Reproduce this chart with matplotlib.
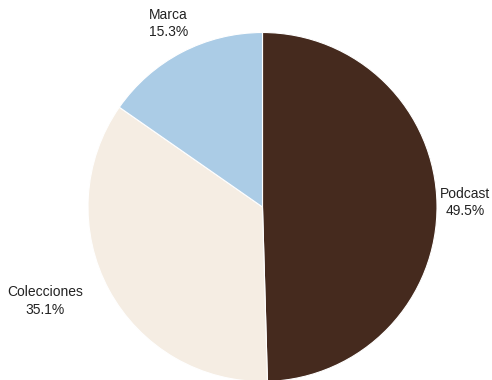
import numpy as np
import matplotlib.pyplot as plt

plt.rcParams['font.family'] = ['Liberation Sans', 'DejaVu Sans']

# data
categories = ["Podcast", "Colecciones", "Marca"]
shares = [49.5, 35.1, 15.3]
colors = ["#452a1e", "#f5ede3", "#abcce6"]

# label offsets from the wedge edge (pixels)
offsets = [(28, 2), (-64, -11), (-13, 29)]

fig = plt.figure(figsize=(4.92, 3.8), dpi=100)
ax = fig.add_axes([0, 0, 1, 1])

wedges, _ = ax.pie(shares, colors=colors, startangle=90, counterclock=False,
                   wedgeprops=dict(edgecolor="white", linewidth=0.8))

for w, name, val, off in zip(wedges, categories, shares, offsets):
    mid = np.deg2rad((w.theta1 + w.theta2) / 2)
    ax.annotate(f"{name}\n{val:.1f}%", xy=(np.cos(mid), np.sin(mid)),
                xytext=off, textcoords="offset pixels",
                ha="center", va="center", fontsize=10, linespacing=1.3,
                color="#222222")

r = 174.5
ax.set_aspect("auto")
ax.set_xlim(-262.5 / r, (492 - 262.5) / r)
ax.set_ylim(-(380 - 207) / r, 207 / r)
ax.axis("off")

fig.savefig("out.png", dpi=100)
